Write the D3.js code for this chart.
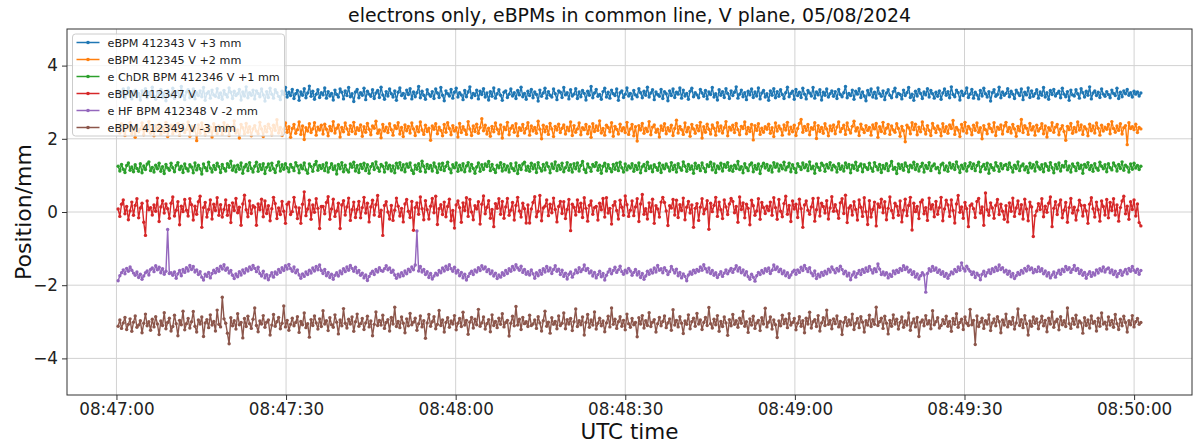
<!DOCTYPE html>
<html>
<head>
  <meta charset="UTF-8">
  <title>electrons only, eBPMs in common line, V plane, 05/08/2024</title>
  <script src="https://d3js.org/d3.v7.min.js"></script>
  <style>
    body { margin: 0; background: #fff; }
    svg { font-family: "DejaVu Sans", sans-serif; }
    .grid line { stroke: #d2d2d2; stroke-width: 1; }
    .axis path { display: none; }
    .axis line { stroke: #333; }
    .axis text { font-size: 16.8px; fill: #222; font-family: "DejaVu Sans", sans-serif; }
    .legend text { font-size: 11.2px; fill: #222; }
  </style>
</head>
<body>
<svg></svg>
<script>
// sampling of the logged BPM readings (UTC)
const sampleStart = Date.UTC(2024, 7, 5, 8, 47, 0, 300);
const sampleStepMs = 302;

const seriesNames = [
  'eBPM 412343 V +3 mm',
  'eBPM 412345 V +2 mm',
  'e ChDR BPM 412346 V +1 mm',
  'eBPM 412347 V',
  'e HF BPM 412348 V -2 mm',
  'eBPM 412349 V -3 mm'
];
const seriesColors = ['#1f77b4', '#ff7f0e', '#2ca02c', '#d62728', '#9467bd', '#8c564b'];

const xTickLabels = ['08:47:00', '08:47:30', '08:48:00', '08:48:30', '08:49:00', '08:49:30', '08:50:00'];
const yTicks = [-4, -2, 0, 2, 4];

const bpm412343 = `
3.30 3.14 3.25 3.36 3.11 3.22 3.39 3.18 3.09 3.28 3.33 3.15 3.24 3.06 3.31 3.20 3.37 3.12 3.27 3.19
3.41 3.16 3.08 3.29 3.23 3.35 3.13 3.26 3.04 3.32 3.21 3.17 3.38 3.10 3.25 3.30 3.14 3.43 3.19 3.07
3.28 3.34 3.12 3.22 3.36 3.09 3.26 3.18 3.31 3.15 3.40 3.05 3.24 3.29 3.11 3.33 3.20 3.16 3.37 3.13
3.25 3.08 3.32 3.21 3.14 3.39 3.27 3.10 3.30 3.18 3.23 3.35 3.06 3.28 3.17 3.42 3.12 3.26 3.19 3.33
3.09 3.31 3.24 3.15 3.36 3.20 3.03 3.29 3.13 3.38 3.22 3.11 3.34 3.26 3.16 3.07 3.30 3.21 3.40 3.14
3.27 3.18 3.35 3.10 3.23 3.32 3.05 3.28 3.19 3.37 3.12 3.25 3.44 3.16 3.30 3.08 3.22 3.34 3.13 3.26
3.20 3.39 3.11 3.29 3.17 3.24 3.06 3.33 3.21 3.14 3.36 3.27 3.09 3.31 3.18 3.40 3.15 3.23 3.02 3.28
3.35 3.12 3.26 3.19 3.38 3.07 3.30 3.22 3.16 3.34 3.10 3.25 3.32 3.13 3.41 3.20 3.08 3.29 3.17 3.36
3.23 3.14 3.31 3.05 3.27 3.39 3.18 3.24 3.11 3.33 3.21 3.37 3.09 3.28 3.15 3.26 3.43 3.12 3.30 3.19
3.08 3.34 3.22 3.16 3.29 3.10 3.36 3.25 3.13 3.40 3.19 3.04 3.31 3.23 3.17 3.35 3.11 3.27 3.38 3.14
3.26 3.20 3.07 3.32 3.15 3.28 3.42 3.12 3.24 3.18 3.33 3.09 3.30 3.21 3.37 3.14 3.25 3.06 3.29 3.16
3.39 3.11 3.23 3.34 3.19 3.05 3.27 3.31 3.13 3.22 3.36 3.17 3.26 3.10 3.32 3.20 3.41 3.15 3.24 3.08
3.30 3.18 3.35 3.12 3.28 3.21 3.03 3.33 3.16 3.25 3.38 3.11 3.29 3.19 3.14 3.36 3.23 3.07 3.31 3.27
3.13 3.40 3.20 3.26 3.09 3.34 3.17 3.22 3.37 3.10 3.28 3.15 3.32 3.24 3.06 3.30 3.19 3.43 3.12 3.25
3.35 3.16 3.21 3.08 3.29 3.38 3.14 3.27 3.11 3.33 3.23 3.18 3.36 3.05 3.26 3.31 3.13 3.22 3.39 3.17
3.24 3.09 3.32 3.20 3.15 3.37 3.26 3.12 3.30 3.19 3.41 3.14 3.25 3.34 3.07 3.28 3.21 3.16 3.35 3.10
3.29 3.23 3.04 3.31 3.18 3.36 3.13 3.27 3.22 3.39 3.11 3.33 3.17 3.24 3.08 3.30 3.38 3.15 3.26 3.20
3.12 3.35 3.25 3.16 3.32 3.09 3.28 3.21 3.40 3.14 3.23 3.06 3.34 3.19 3.29 3.13 3.37 3.24 3.10 3.31
3.18 3.27 3.42 3.11 3.22 3.33 3.15 3.26 3.07 3.30 3.20 3.36 3.13 3.28 3.17 3.39 3.09 3.25 3.32 3.14
3.23 3.05 3.31 3.19 3.37 3.12 3.29 3.16 3.34 3.21 3.10 3.26 3.41 3.15 3.24 3.30 3.08 3.35 3.18 3.27
3.13 3.38 3.22 3.09 3.32 3.25 3.17 3.40 3.11 3.28 3.20 3.34 3.06 3.27 3.19 3.36 3.14 3.23 3.31 3.16
3.29 3.10 3.35 3.21 3.15 3.26 3.43 3.12 3.24 3.18 3.33 3.08 3.30 3.22 3.37 3.13 3.28 3.17 3.04 3.32
3.20 3.36 3.14 3.27 3.11 3.39 3.23 3.16 3.31 3.07 3.25 3.34 3.19 3.12 3.29 3.38 3.15 3.24 3.21 3.09
3.33 3.18 3.26 3.40 3.13 3.22 3.05 3.30 3.17 3.35 3.24 3.10 3.28 3.20 3.37 3.14 3.32 3.23 3.11 3.27
3.16 3.31 3.08 3.25 3.36 3.19 3.29 3.12 3.42 3.21 3.15 3.33 3.26 3.06 3.30 3.18 3.24 3.39 3.13 3.22
3.35 3.11 3.27 3.20 3.09 3.32 3.17 3.38 3.23 3.14 3.29 3.03 3.26 3.34 3.16 3.21 3.41 3.12 3.28 3.19
3.24 3.37 3.15 3.30 3.22 3.10 3.33 3.25 3.18 3.36 3.07 3.27 3.20 3.39 3.13 3.31 3.16 3.23 3.34 3.11
3.28 3.19 3.40 3.14 3.26 3.08 3.32 3.21 3.35 3.17 3.24 3.30 3.12 3.38 3.22 3.15 3.29 3.05 3.33 3.20
3.17 3.34 3.23 3.11 3.37 3.26 3.14 3.30 3.19 3.42 3.09 3.25 3.31 3.18 3.27 3.13 3.36 3.22 3.16 3.29
3.21 3.12 3.33 3.24 3.18 3.38 3.10 3.27 3.15 3.31 3.23 3.35 3.19 3.26 3.14 3.30 3.22 3.28 3.17 3.25
`.trim().split(/\s+/).map(Number);

const bpm412345 = `
2.32 2.16 2.41 2.22 2.09 2.35 2.27 2.44 2.13 2.30 2.04 2.38 2.19 2.26 2.43 2.11 2.34 2.21 2.47 2.15
2.29 2.08 2.36 2.24 2.40 2.12 2.31 2.18 2.45 2.06 2.28 2.37 2.14 2.33 2.20 2.42 2.10 2.27 2.39 2.17
2.25 2.46 2.07 2.34 2.21 2.30 1.95 2.38 2.15 2.43 2.26 2.11 2.36 2.19 2.32 2.05 2.41 2.23 2.14 2.35
2.28 2.12 2.44 2.20 2.37 2.09 2.31 2.26 2.49 2.16 2.24 2.02 2.39 2.30 2.13 2.42 2.18 2.33 2.08 2.27
2.36 2.21 2.14 2.45 2.27 2.06 2.34 2.19 2.40 2.29 2.11 2.37 2.23 2.52 2.16 2.31 2.09 2.26 2.43 2.18
2.33 2.04 2.28 2.39 2.15 2.25 2.46 2.12 2.35 1.98 2.30 2.21 2.41 2.17 2.27 2.44 2.10 2.32 2.24 2.37
2.13 2.40 2.26 2.08 2.34 2.22 2.47 2.16 2.29 2.38 2.05 2.31 2.19 2.43 2.27 2.12 2.36 2.20 2.45 2.14
2.30 2.23 2.38 2.07 2.33 2.18 2.42 2.26 2.11 2.35 2.29 2.48 2.15 2.24 2.03 2.39 2.21 2.32 2.17 2.41
2.25 2.10 2.36 2.28 2.44 2.13 2.31 2.06 2.38 2.22 2.34 2.16 2.43 2.27 2.09 2.33 2.19 2.46 2.24 2.12
2.37 2.20 2.29 1.96 2.35 2.26 2.41 2.14 2.32 2.23 2.08 2.39 2.18 2.44 2.28 2.11 2.36 2.21 2.30 2.05
2.42 2.17 2.33 2.24 2.12 2.47 2.27 2.09 2.35 2.20 2.40 2.15 2.31 2.55 2.22 2.37 2.13 2.29 2.07 2.34
2.19 2.43 2.26 2.14 2.38 2.02 2.32 2.25 2.45 2.11 2.29 2.36 2.18 2.41 2.08 2.30 2.23 2.39 2.16 2.28
2.44 2.10 2.35 2.21 2.31 2.15 2.48 2.26 2.00 2.37 2.19 2.33 2.12 2.42 2.27 2.06 2.34 2.24 2.40 2.17
2.29 2.38 2.13 2.32 2.22 2.46 2.09 2.36 2.18 2.27 2.43 2.11 2.30 2.25 2.39 2.14 2.33 2.04 2.41 2.20
2.35 2.23 2.49 2.16 2.28 2.10 2.37 2.31 2.19 2.44 2.07 2.34 2.26 2.13 2.40 2.22 2.30 2.17 2.45 2.12
2.27 2.39 2.08 2.33 1.94 2.36 2.24 2.42 2.15 2.29 2.20 2.47 2.11 2.32 2.38 2.18 2.26 2.05 2.35 2.23
2.41 2.14 2.30 2.21 2.37 2.09 2.28 2.51 2.16 2.34 2.25 2.12 2.43 2.19 2.31 2.07 2.39 2.27 2.15 2.36
2.22 2.45 2.02 2.33 2.18 2.40 2.26 2.13 2.38 2.29 2.10 2.44 2.21 2.35 2.16 2.30 2.47 2.08 2.32 2.24
2.37 2.17 2.42 2.25 2.11 2.34 2.28 2.46 2.14 2.31 2.20 2.39 1.97 2.36 2.23 2.41 2.12 2.29 2.18 2.33
2.26 2.40 2.15 2.30 2.06 2.43 2.21 2.35 2.27 2.10 2.38 2.24 2.45 2.13 2.32 2.19 2.37 2.09 2.28 2.42
2.53 2.18 2.34 2.23 2.39 2.11 2.30 2.26 2.44 2.01 2.36 2.20 2.31 2.15 2.41 2.27 2.08 2.35 2.22 2.38
2.14 2.32 2.46 2.19 2.28 2.37 2.12 2.43 2.25 2.16 2.34 2.48 2.21 2.30 2.09 2.40 2.26 2.17 2.36 2.23
2.31 2.10 2.38 2.27 2.42 2.04 2.33 2.20 2.45 2.15 2.29 2.39 2.12 2.35 2.24 2.18 2.41 2.28 2.07 2.34
2.22 1.92 2.37 2.30 2.14 2.44 2.25 2.40 2.11 2.32 2.19 2.46 2.27 2.13 2.36 2.23 2.09 2.42 2.29 2.17
2.35 2.26 2.08 2.41 2.20 2.33 2.15 2.38 2.28 2.50 2.12 2.31 2.24 2.06 2.39 2.21 2.45 2.16 2.34 2.27
2.11 2.37 2.23 2.43 2.18 2.30 2.00 2.36 2.25 2.14 2.40 2.28 2.19 2.44 2.09 2.32 2.26 2.38 2.13 2.35
2.45 2.20 2.31 2.16 2.39 2.27 2.07 2.34 2.22 2.53 2.17 2.36 2.29 2.12 2.42 2.24 2.33 2.10 2.37 2.21
2.28 2.41 2.14 2.35 2.05 2.30 2.23 2.44 2.18 2.32 2.39 2.11 2.27 2.36 2.20 1.96 2.34 2.25 2.42 2.15
2.31 2.19 2.46 2.24 2.38 2.12 2.33 2.27 2.08 2.40 2.22 2.35 2.16 2.43 2.29 2.10 2.37 2.21 2.32 2.26
2.39 2.14 2.47 2.28 2.18 2.35 2.23 2.41 2.13 2.30 2.36 1.84 2.44 2.28 2.33 2.25 2.40 2.17 2.31 2.27
`.trim().split(/\s+/).map(Number);

const bpm412346 = `
1.25 1.12 1.30 1.17 1.08 1.27 1.34 1.14 1.23 1.10 1.29 1.19 1.11 1.32 1.07 1.26 1.16 1.31 1.37 1.13
1.22 1.09 1.28 1.18 1.33 1.11 1.24 1.05 1.30 1.20 1.14 1.33 1.21 1.10 1.27 1.35 1.16 1.25 1.08 1.31
1.19 1.12 1.29 1.23 1.07 1.34 1.15 1.28 1.18 1.04 1.31 1.21 1.13 1.36 1.20 1.09 1.27 1.16 1.33 1.24
1.08 1.30 1.19 1.12 1.32 1.22 1.39 1.14 1.26 1.10 1.28 1.17 1.34 1.06 1.23 1.30 1.13 1.35 1.19 1.09
1.25 1.36 1.11 1.29 1.16 1.32 1.05 1.22 1.31 1.14 1.33 1.18 1.08 1.27 1.37 1.12 1.29 1.17 1.32 1.21
1.10 1.30 1.22 1.13 1.35 1.26 1.07 1.28 1.18 1.34 1.15 1.06 1.31 1.24 1.11 1.29 1.38 1.14 1.27 1.19
1.29 1.13 1.34 1.09 1.21 1.32 1.16 1.26 1.04 1.30 1.18 1.35 1.10 1.28 1.15 1.09 1.31 1.22 1.36 1.12
1.27 1.08 1.30 1.19 1.33 1.13 1.29 1.06 1.24 1.32 1.16 1.37 1.21 1.11 1.30 1.25 1.09 1.34 1.18 1.28
1.12 1.26 1.07 1.33 1.20 1.35 1.15 1.29 1.10 1.31 1.22 1.34 1.14 1.05 1.28 1.17 1.32 1.11 1.39 1.25
1.09 1.30 1.19 1.27 1.12 1.34 1.23 1.08 1.31 1.16 1.33 1.13 1.25 1.36 1.18 1.07 1.29 1.21 1.34 1.11
1.28 1.15 1.32 1.10 1.26 1.35 1.12 1.30 1.19 1.06 1.23 1.34 1.11 1.29 1.16 1.31 1.24 1.38 1.13 1.30
1.17 1.08 1.28 1.21 1.35 1.12 1.30 1.15 1.26 1.09 1.32 1.19 1.13 1.34 1.05 1.27 1.16 1.31 1.36 1.14
1.25 1.11 1.33 1.18 1.29 1.08 1.35 1.20 1.12 1.30 1.15 1.34 1.24 1.07 1.31 1.19 1.37 1.13 1.28 1.17
1.33 1.10 1.21 1.35 1.14 1.29 1.09 1.32 1.18 1.34 1.12 1.27 1.38 1.16 1.08 1.31 1.22 1.11 1.30 1.24
1.35 1.14 1.28 1.06 1.25 1.33 1.12 1.29 1.19 1.10 1.30 1.17 1.33 1.13 1.36 1.21 1.09 1.31 1.15 1.26
1.20 1.32 1.11 1.27 1.16 1.34 1.07 1.24 1.30 1.13 1.36 1.19 1.26 1.10 1.29 1.22 1.14 1.33 1.08 1.28
1.18 1.31 1.23 1.12 1.35 1.16 1.28 1.09 1.32 1.21 1.14 1.37 1.25 1.11 1.30 1.17 1.26 1.06 1.33 1.19
1.27 1.13 1.34 1.20 1.10 1.29 1.24 1.36 1.15 1.31 1.08 1.26 1.18 1.33 1.12 1.30 1.22 1.35 1.14 1.25
1.11 1.28 1.19 1.38 1.16 1.24 1.07 1.32 1.21 1.13 1.29 1.34 1.10 1.27 1.17 1.31 1.05 1.25 1.33 1.20
1.30 1.14 1.26 1.09 1.35 1.22 1.31 1.12 1.28 1.18 1.36 1.15 1.23 1.33 1.10 1.29 1.19 1.08 1.32 1.24
1.16 1.34 1.21 1.29 1.13 1.37 1.18 1.25 1.06 1.31 1.22 1.14 1.33 1.27 1.11 1.30 1.20 1.35 1.15 1.28
1.23 1.09 1.32 1.17 1.26 1.12 1.34 1.21 1.30 1.07 1.28 1.19 1.36 1.14 1.25 1.31 1.10 1.29 1.22 1.16
1.33 1.20 1.11 1.35 1.24 1.15 1.30 1.08 1.27 1.18 1.32 1.13 1.26 1.38 1.17 1.22 1.05 1.31 1.19 1.29
1.14 1.34 1.25 1.10 1.28 1.21 1.36 1.16 1.30 1.12 1.24 1.33 1.09 1.27 1.19 1.35 1.13 1.26 1.31 1.18
1.22 1.07 1.29 1.33 1.15 1.26 1.11 1.34 1.20 1.30 1.16 1.37 1.23 1.08 1.28 1.18 1.32 1.12 1.25 1.35
1.19 1.31 1.13 1.27 1.36 1.10 1.24 1.30 1.17 1.33 1.06 1.29 1.21 1.14 1.35 1.25 1.11 1.32 1.18 1.27
1.30 1.16 1.34 1.22 1.09 1.28 1.19 1.37 1.13 1.26 1.31 1.15 1.24 1.08 1.33 1.20 1.29 1.12 1.36 1.23
1.17 1.29 1.10 1.32 1.25 1.14 1.35 1.21 1.07 1.30 1.18 1.34 1.12 1.27 1.23 1.38 1.15 1.26 1.09 1.31
1.24 1.13 1.33 1.19 1.28 1.06 1.30 1.22 1.35 1.16 1.27 1.11 1.32 1.20 1.14 1.36 1.25 1.18 1.29 1.10
1.32 1.21 1.15 1.34 1.26 1.12 1.30 1.19 1.37 1.14 1.28 1.23 1.09 1.31 1.17 1.33 1.20 1.27 1.16 1.25
`.trim().split(/\s+/).map(Number);

const bpm412347 = `
0.08 -0.12 0.21 0.33 -0.05 0.15 -0.21 0.03 0.27 -0.09 0.18 0.36 -0.16 0.11 0.24 -0.28 -0.64 0.30 0.06 0.12
-0.08 0.19 0.02 0.38 -0.26 0.14 0.31 -0.03 0.22 0.09 -0.17 0.24 0.41 -0.11 0.05 0.28 -0.35 0.16 0.01 0.34
0.05 -0.11 0.36 0.20 -0.22 0.16 -0.06 0.28 0.43 -0.42 0.12 0.26 -0.14 0.07 0.33 -0.19 0.21 0.04 0.39 -0.09
0.20 -0.14 0.07 0.33 -0.09 0.18 -0.29 0.25 0.04 0.37 -0.02 0.13 -0.36 0.22 0.46 0.06 -0.13 0.30 -0.04 0.17
0.13 -0.36 0.22 0.06 0.35 -0.13 0.30 -0.04 0.17 -0.24 0.09 0.40 0.23 -0.18 0.11 -0.07 0.29 0.02 -0.31 0.21
0.27 -0.07 0.01 0.40 0.14 -0.18 0.11 -0.31 0.21 0.55 -0.10 0.08 0.32 -0.20 0.19 -0.01 0.36 0.10 -0.45 0.15
0.15 -0.05 0.26 0.42 -0.20 0.08 0.35 -0.12 0.03 0.24 -0.45 0.19 0.31 -0.08 0.14 0.38 -0.23 0.06 0.27 -0.15
0.07 0.29 -0.16 0.12 0.40 -0.03 0.24 -0.27 0.14 0.32 -0.08 0.20 0.45 -0.12 0.05 -0.64 0.18 0.28 0.00 -0.19
0.18 -0.23 0.05 0.38 0.16 -0.11 0.10 -0.27 0.22 0.34 0.02 -0.15 0.29 -0.50 0.12 0.25 -0.06 0.41 0.09 -0.21
0.31 0.06 -0.19 0.16 0.37 -0.02 0.43 -0.34 0.09 0.20 -0.07 0.27 -0.13 0.15 0.35 -0.24 0.04 -0.44 0.19 0.30
0.12 -0.28 0.25 0.04 0.39 -0.12 0.34 0.00 -0.21 0.17 0.08 0.28 -0.33 0.21 0.44 -0.05 0.13 0.31 -0.17 0.07
-0.40 0.23 0.10 0.36 -0.06 0.29 -0.17 0.14 0.37 -0.09 0.05 0.26 -0.22 0.18 0.40 0.03 -0.14 0.24 0.09 -0.30
0.19 -0.30 0.08 0.26 0.42 -0.13 0.02 0.45 -0.24 0.11 0.16 0.33 -0.10 0.21 -0.02 0.38 0.07 -0.27 0.15 0.29
-0.04 0.28 -0.18 0.07 0.34 -0.51 0.21 0.13 -0.08 0.33 0.01 0.24 -0.15 0.39 0.10 -0.25 0.18 0.30 -0.06 0.12
0.15 -0.22 0.24 0.06 0.37 -0.14 0.39 -0.03 0.10 -0.33 0.18 0.28 0.04 -0.19 0.32 0.13 -0.09 0.44 0.20 -0.12
0.05 0.30 -0.10 0.14 0.36 -0.26 0.22 0.48 -0.06 0.09 -0.19 0.25 0.01 0.35 -0.31 0.17 0.08 -0.14 0.27 0.40
0.26 0.03 -0.37 0.17 0.11 0.34 -0.08 0.32 -0.15 0.20 0.04 0.38 -0.21 0.13 0.29 -0.03 0.19 -0.42 0.10 0.23
-0.23 0.13 0.36 -0.05 0.08 0.31 -0.47 0.24 0.01 0.18 0.40 -0.12 0.27 0.06 -0.18 0.33 0.14 -0.07 0.22 0.37
0.29 -0.02 0.15 -0.28 0.41 0.07 0.25 -0.16 0.21 0.10 -0.35 0.32 0.17 -0.09 0.03 0.36 -0.20 0.26 0.12 -0.04
0.16 0.04 0.27 -0.09 0.39 0.12 -0.20 0.34 0.02 -0.13 0.23 0.43 -0.06 0.18 -0.26 0.30 0.08 0.21 -0.15 0.35
0.09 -0.42 0.19 0.30 0.05 -0.06 0.14 0.37 -0.25 0.06 0.38 -0.11 0.24 0.15 -0.03 0.31 -0.19 0.11 0.42 0.02
0.20 0.03 -0.17 0.25 0.36 -0.04 0.46 -0.29 0.11 0.17 -0.08 0.28 0.07 -0.22 0.33 0.13 -0.12 0.39 0.01 -0.34
0.31 -0.14 0.07 0.27 -0.38 0.22 0.13 0.35 -0.02 0.28 -0.21 0.10 0.41 0.04 -0.16 0.24 0.16 -0.09 0.30 -0.27
0.05 0.35 -0.10 0.18 0.40 -0.49 0.24 0.01 0.15 -0.18 0.27 0.33 -0.05 0.12 -0.23 0.38 0.08 0.20 -0.13 0.29
-0.06 0.12 0.40 -0.24 0.08 0.32 0.19 -0.12 0.33 0.04 -0.30 0.22 0.45 -0.01 0.14 -0.17 0.26 0.09 -0.40 0.17
0.22 0.09 -0.15 0.29 0.37 -0.03 0.14 -0.36 0.52 0.06 -0.09 0.25 0.11 -0.17 0.18 0.34 -0.07 0.21 0.02 -0.20
0.17 -0.27 0.25 0.02 0.38 -0.12 0.11 0.30 -0.05 0.20 -0.19 0.35 0.08 -0.24 0.27 0.14 -0.67 -0.10 0.03 0.23
0.07 0.36 -0.13 0.16 -0.01 0.24 0.41 -0.40 0.10 0.28 -0.07 0.19 0.33 -0.16 0.05 0.26 -0.28 0.12 0.37 -0.03
0.13 -0.22 0.05 0.32 0.18 -0.11 0.18 0.03 -0.31 0.21 0.39 0.09 -0.14 0.27 0.06 -0.25 0.30 0.15 -0.08 0.34
-0.16 0.26 0.04 0.36 -0.08 0.19 -0.25 0.12 0.30 0.43 -0.05 0.16 -0.20 0.28 0.07 0.33 -0.11 0.22 -0.29 -0.38
`.trim().split(/\s+/).map(Number);

const bpm412348 = `
-1.88 -1.74 -1.66 -1.58 -1.69 -1.54 -1.62 -1.50 -1.59 -1.67 -1.73 -1.64 -1.79 -1.70 -1.84 -1.75 -1.66 -1.61 -1.72 -1.57
-1.53 -1.63 -1.47 -1.58 -1.51 -1.66 -1.55 -1.70 -1.62 -0.48 -1.68 -1.66 -1.73 -1.64 -1.81 -1.69 -1.60 -1.74 -1.57 -1.65
-1.52 -1.61 -1.46 -1.57 -1.49 -1.64 -1.58 -1.71 -1.63 -1.78 -1.86 -1.70 -1.76 -1.65 -1.80 -1.68 -1.59 -1.66 -1.54 -1.62
-1.48 -1.56 -1.44 -1.59 -1.53 -1.67 -1.60 -1.73 -1.82 -1.69 -1.77 -1.63 -1.72 -1.58 -1.67 -1.55 -1.61 -1.50 -1.57 -1.46
-1.54 -1.63 -1.51 -1.68 -1.75 -1.62 -1.80 -1.71 -1.85 -1.74 -1.66 -1.78 -1.64 -1.70 -1.57 -1.65 -1.52 -1.60 -1.47 -1.56
-1.43 -1.55 -1.62 -1.50 -1.66 -1.58 -1.72 -1.81 -1.69 -1.76 -1.64 -1.71 -1.59 -1.67 -1.53 -1.61 -1.49 -1.58 -1.45 -1.60
-1.68 -1.57 -1.74 -1.65 -1.79 -1.70 -1.84 -1.73 -1.66 -1.75 -1.61 -1.69 -1.55 -1.63 -1.50 -1.59 -1.46 -1.54 -1.62 -1.51
-1.66 -1.60 -1.73 -1.67 -1.80 -1.72 -1.87 -1.76 -1.68 -1.62 -1.71 -1.57 -1.64 -1.52 -1.60 -1.62 -1.55 -1.47 -1.58 -1.53
-1.65 -1.59 -1.72 -1.81 -1.70 -1.77 -1.66 -1.74 -1.61 -1.69 -1.56 -1.63 -1.50 -1.58 -1.45 -0.52 -1.61 -1.49 -1.64 -1.57
-1.71 -1.63 -1.79 -1.68 -1.83 -1.75 -1.67 -1.72 -1.60 -1.66 -1.53 -1.61 -1.48 -1.57 -1.44 -1.55 -1.62 -1.51 -1.67 -1.59
-1.74 -1.65 -1.80 -1.70 -1.86 -1.76 -1.68 -1.62 -1.71 -1.58 -1.64 -1.52 -1.60 -1.47 -1.56 -1.50 -1.63 -1.57 -1.69 -1.61
-1.75 -1.67 -1.82 -1.72 -1.78 -1.66 -1.73 -1.60 -1.68 -1.55 -1.62 -1.49 -1.58 -1.44 -1.53 -1.59 -1.48 -1.65 -1.57 -1.70
-1.63 -1.72 -1.58 -1.69 -1.81 -1.66 -1.74 -1.60 -1.70 -1.55 -1.64 -1.49 -1.61 -1.53 -1.68 -1.57 -1.47 -1.62 -1.56 -1.71
-1.59 -1.76 -1.67 -1.83 -1.70 -1.64 -1.78 -1.69 -1.58 -1.66 -1.52 -1.63 -1.57 -1.45 -1.60 -1.54 -1.67 -1.61 -1.75 -1.65
-1.80 -1.71 -1.62 -1.77 -1.68 -1.86 -1.73 -1.64 -1.56 -1.69 -1.60 -1.51 -1.65 -1.58 -1.48 -1.63 -1.70 -1.59 -1.66 -1.54
-1.61 -1.73 -1.65 -1.57 -1.72 -1.63 -1.79 -1.68 -1.84 -1.75 -1.62 -1.70 -1.58 -1.67 -1.53 -1.64 -1.46 -1.59 -1.55 -1.66
-1.52 -1.60 -1.71 -1.63 -1.49 -1.58 -1.67 -1.56 -1.74 -1.65 -1.80 -1.69 -1.76 -1.88 -1.72 -1.64 -1.70 -1.59 -1.66 -1.57
-1.62 -1.50 -1.59 -1.44 -1.55 -1.64 -1.53 -1.68 -1.60 -1.73 -1.66 -1.79 -1.71 -1.63 -1.76 -1.67 -1.58 -1.69 -1.61 -1.54
-1.65 -1.56 -1.47 -1.61 -1.52 -1.66 -1.58 -1.72 -1.63 -1.77 -1.84 -1.70 -1.78 -1.89 -1.74 -1.65 -1.71 -1.60 -1.67 -1.55
-1.62 -1.53 -1.68 -1.59 -1.45 -1.57 -1.50 -1.63 -1.56 -1.69 -1.61 -1.74 -1.66 -1.79 -1.72 -1.64 -1.59 -1.70 -1.58 -1.65
-1.51 -1.60 -1.46 -1.55 -1.63 -1.52 -1.67 -1.74 -1.61 -1.82 -1.70 -1.77 -1.65 -1.73 -1.62 -1.69 -1.56 -1.64 -1.50 -1.58
-1.66 -1.54 -1.61 -1.48 -1.57 -1.69 -1.62 -1.75 -1.67 -1.85 -1.72 -1.64 -1.78 -1.68 -1.60 -1.71 -1.57 -1.65 -1.53 -1.62
-1.49 -1.58 -1.67 -1.55 -1.63 -1.42 -1.56 -1.71 -1.64 -1.72 -1.66 -1.80 -1.70 -1.76 -1.61 -1.69 -1.59 -1.65 -1.54 -1.60
-1.47 -1.57 -1.51 -1.64 -1.58 -1.71 -1.63 -1.78 -1.69 -1.83 -1.74 -1.66 -1.72 -2.19 -1.68 -1.55 -1.62 -1.49 -1.59 -1.53
-1.65 -1.58 -1.70 -1.63 -1.76 -1.68 -1.81 -1.72 -1.64 -1.69 -1.57 -1.63 -1.50 -1.59 -1.39 -1.54 -1.61 -1.48 -1.56 -1.62
-1.71 -1.64 -1.79 -1.67 -1.73 -1.85 -1.70 -1.62 -1.75 -1.66 -1.58 -1.68 -1.55 -1.63 -1.51 -1.60 -1.45 -1.57 -1.52 -1.64
-1.59 -1.70 -1.62 -1.77 -1.68 -1.82 -1.74 -1.65 -1.71 -1.60 -1.67 -1.54 -1.61 -1.48 -1.58 -1.53 -1.66 -1.57 -1.63 -1.50
-1.62 -1.55 -1.69 -1.61 -1.75 -1.66 -1.80 -1.72 -1.64 -1.78 -1.67 -1.59 -1.70 -1.56 -1.63 -1.49 -1.58 -1.52 -1.65 -1.57
-1.46 -1.60 -1.54 -1.68 -1.59 -1.73 -1.65 -1.81 -1.70 -1.63 -1.76 -1.66 -1.72 -1.58 -1.67 -1.55 -1.61 -1.50 -1.64 -1.56
-1.53 -1.66 -1.58 -1.71 -1.62 -1.77 -1.68 -1.60 -1.73 -1.64 -1.57 -1.69 -1.54 -1.62 -1.49 -1.59 -1.65 -1.56 -1.70 -1.60
`.trim().split(/\s+/).map(Number);

const bpm412349 = `
-3.12 -2.95 -3.18 -3.03 -2.88 -3.21 -3.07 -2.92 -3.26 -3.01 -2.84 -3.15 -3.09 -2.97 -3.30 -3.04 -2.79 -3.11 -3.00 -3.23
-2.93 -3.14 -2.86 -3.06 -3.35 -2.98 -3.10 -2.75 -3.19 -3.02 -2.90 -3.25 -3.13 -2.82 -3.05 -3.38 -2.96 -3.08 -2.71 -3.22
-3.05 -2.91 -3.17 -3.00 -2.72 -3.12 -3.28 -2.95 -3.06 -2.87 -3.40 -3.03 -2.94 -3.16 -2.81 -3.09 -2.99 -3.25 -2.68 -3.07
-3.14 -2.33 -2.92 -3.04 -3.31 -3.60 -2.89 -3.11 -2.97 -3.20 -2.78 -3.08 -3.02 -3.44 -2.91 -3.13 -2.85 -3.05 -3.18 -2.93
-2.62 -3.10 -3.27 -2.98 -3.06 -2.83 -3.15 -3.01 -2.95 -3.36 -3.09 -2.80 -3.12 -3.00 -2.88 -3.19 -3.04 -2.57 -3.14 -2.96
-3.23 -3.07 -2.90 -3.11 -3.02 -2.86 -3.29 -2.99 -3.08 -2.76 -3.16 -3.05 -3.42 -2.94 -3.10 -2.84 -3.03 -3.20 -2.92 -3.13
-2.70 -3.06 -2.97 -3.24 -2.89 -3.08 -3.15 -2.81 -3.01 -3.33 -2.95 -3.11 -2.64 -3.04 -3.17 -2.93 -3.06 -2.87 -3.26 -3.00
-2.79 -3.12 -3.05 -2.91 -3.21 -3.03 -2.85 -3.14 -2.98 -3.38 -3.07 -2.73 -3.10 -2.96 -3.09 -2.82 -3.18 -3.02 -2.94 -3.25
-2.88 -3.06 -2.60 -3.13 -2.99 -3.16 -2.87 -3.04 -3.30 -2.92 -3.11 -2.77 -3.08 -3.01 -2.90 -3.23 -3.05 -2.84 -3.14 -2.97
-3.45 -3.03 -2.80 -3.12 -3.00 -2.86 -3.19 -3.07 -2.69 -3.10 -2.95 -3.28 -3.02 -2.89 -3.15 -2.98 -3.06 -2.83 -3.22 -3.04
-2.91 -3.13 -2.74 -3.09 -2.96 -3.34 -3.01 -2.88 -3.17 -2.93 -3.08 -2.66 -3.12 -3.03 -2.87 -3.20 -3.05 -2.94 -3.27 -2.81
-3.10 -2.99 -3.16 -2.90 -3.07 -2.78 -3.14 -3.02 -2.96 -3.39 -3.04 -2.85 -3.11 -2.58 -3.09 -2.93 -3.21 -2.88 -3.05 -3.00
-3.13 -2.82 -3.10 -3.06 -2.95 -3.18 -2.86 -3.03 -3.25 -2.97 -2.71 -3.12 -3.01 -3.31 -2.89 -3.07 -2.99 -3.19 -2.84 -3.10
-3.04 -2.76 -3.19 -2.94 -3.06 -2.91 -3.24 -3.00 -2.65 -3.13 -2.97 -3.08 -2.87 -3.36 -3.02 -2.80 -3.15 -2.95 -3.09 -2.73
-3.20 -3.04 -2.90 -3.11 -2.98 -3.27 -3.03 -2.85 -3.14 -2.62 -3.07 -2.93 -3.18 -3.00 -2.86 -3.12 -2.96 -3.22 -2.79 -3.05
-3.15 -2.91 -3.08 -3.02 -3.41 -2.89 -3.06 -2.83 -3.17 -2.97 -3.10 -2.75 -3.13 -3.01 -2.94 -3.28 -3.05 -2.88 -3.11 -2.99
-2.84 -3.16 -3.03 -2.92 -3.23 -2.67 -3.09 -2.96 -3.14 -2.86 -3.04 -3.32 -2.98 -3.07 -2.81 -3.19 -3.00 -2.90 -3.12 -2.77
-3.06 -2.95 -3.21 -3.02 -2.88 -3.10 -2.61 -3.05 -3.17 -2.93 -3.08 -2.83 -3.26 -2.99 -3.13 -2.87 -3.03 -3.37 -2.94 -3.11
-2.80 -3.07 -2.97 -3.15 -2.90 -3.04 -2.72 -3.12 -3.00 -3.29 -2.92 -3.09 -2.85 -3.18 -3.03 -2.96 -3.24 -2.89 -3.06 -2.63
-3.14 -3.01 -2.87 -3.20 -2.95 -3.08 -3.43 -2.98 -3.11 -2.82 -3.05 -2.93 -3.16 -2.78 -3.09 -3.02 -2.91 -3.22 -3.04 -2.86
-3.12 -2.97 -3.30 -2.90 -3.06 -2.74 -3.17 -3.00 -2.94 -3.13 -2.83 -3.25 -3.03 -2.89 -3.10 -2.68 -3.07 -2.96 -3.19 -2.92
-3.05 -2.84 -3.14 -2.99 -3.35 -3.02 -2.88 -3.11 -2.95 -3.08 -2.79 -3.21 -3.04 -2.91 -3.16 -2.86 -3.01 -3.28 -2.97 -3.09
-2.82 -3.13 -2.94 -3.07 -2.60 -3.10 -3.00 -2.90 -3.18 -2.85 -3.04 -3.33 -2.96 -3.12 -2.81 -3.06 -2.93 -3.20 -3.02 -2.87
-3.15 -2.98 -3.09 -2.76 -3.23 -3.03 -2.92 -3.14 -2.88 -3.40 -3.01 -2.95 -3.11 -2.83 -3.06 -2.97 -3.19 -2.70 -3.08 -3.00
-2.89 -3.17 -3.10 -2.94 -3.05 -2.85 -3.12 -2.99 -3.26 -2.91 -3.07 -2.78 -3.15 -3.02 -2.93 -3.21 -2.87 -3.04 -3.10 -2.66
-3.08 -2.96 -3.62 -2.84 -3.13 -3.01 -2.90 -3.18 -2.97 -3.06 -2.81 -3.24 -3.03 -2.92 -3.11 -2.86 -3.00 -3.30 -2.95 -3.09
-2.79 -3.14 -2.99 -3.07 -2.88 -3.20 -3.03 -2.65 -3.10 -2.94 -3.16 -2.83 -3.05 -3.36 -2.98 -3.12 -2.87 -3.04 -2.92 -3.19
-3.01 -2.85 -3.11 -2.96 -3.27 -2.90 -3.06 -2.73 -3.15 -3.00 -2.93 -3.22 -2.86 -3.08 -2.97 -3.13 -2.62 -3.05 -3.18 -2.91
-3.07 -2.82 -3.14 -2.98 -3.03 -3.31 -2.89 -3.10 -2.95 -3.17 -2.84 -3.04 -2.99 -3.25 -2.90 -3.12 -2.76 -3.06 -3.01 -3.20
-2.87 -3.09 -2.96 -3.15 -2.80 -3.05 -3.21 -2.93 -3.11 -2.85 -3.02 -3.28 -2.97 -3.08 -2.83 -3.14 -3.00 -2.91 -3.07 -3.02
`.trim().split(/\s+/).map(Number);

const seriesValues = [bpm412343, bpm412345, bpm412346, bpm412347, bpm412348, bpm412349];

const W = 1196, H = 444;
const margin = { top: 29, right: 4, bottom: 49, left: 67 };
const width = W - margin.left - margin.right;
const height = H - margin.top - margin.bottom;

const svg = d3.select('svg')
  .attr('width', W)
  .attr('height', H);

const series = seriesNames.map((name, k) => ({
  name: name,
  color: seriesColors[k],
  points: seriesValues[k].map((v, i) => ({ t: new Date(sampleStart + i * sampleStepMs), v: v }))
}));

// matplotlib-like 5% margin around the data in x
const tExtent = d3.extent(series.flatMap(s => s.points), d => d.t);
const pad = (tExtent[1] - tExtent[0]) * 0.05;

const x = d3.scaleUtc()
  .domain([new Date(+tExtent[0] - pad), new Date(+tExtent[1] + pad)])
  .range([0, width]);

const y = d3.scaleLinear()
  .domain([-5, 5])
  .range([height, 0]);

const xTicks = xTickLabels.map(s => new Date('2024-08-05T' + s + 'Z'));

const g = svg.append('g')
  .attr('transform', `translate(${margin.left},${margin.top})`);

// grid
const grid = g.append('g').attr('class', 'grid');
grid.selectAll('line.gx')
  .data(xTicks)
  .enter().append('line')
  .attr('class', 'gx')
  .attr('x1', d => x(d)).attr('x2', d => x(d))
  .attr('y1', 0).attr('y2', height);
grid.selectAll('line.gy')
  .data(yTicks)
  .enter().append('line')
  .attr('class', 'gy')
  .attr('x1', 0).attr('x2', width)
  .attr('y1', d => y(d)).attr('y2', d => y(d));

// series
const line = d3.line()
  .x(d => x(d.t))
  .y(d => y(d.v));

const sg = g.selectAll('.series')
  .data(series)
  .enter().append('g')
  .attr('class', 'series');

sg.append('path')
  .attr('d', d => line(d.points))
  .attr('fill', 'none')
  .attr('stroke', d => d.color)
  .attr('stroke-width', 1.4)
  .attr('stroke-linejoin', 'round');

sg.each(function(s) {
  d3.select(this).selectAll('circle')
    .data(s.points)
    .enter().append('circle')
    .attr('cx', d => x(d.t))
    .attr('cy', d => y(d.v))
    .attr('r', 1.7)
    .attr('fill', s.color);
});

// axes
g.append('g')
  .attr('class', 'axis')
  .attr('transform', `translate(0,${height})`)
  .call(d3.axisBottom(x)
    .tickValues(xTicks)
    .tickFormat(d3.utcFormat('%H:%M:%S'))
    .tickSizeOuter(0)
    .tickSizeInner(5)
    .tickPadding(3))
  .selectAll('text')
  .attr('dy', '0.7em');

g.append('g')
  .attr('class', 'axis')
  .call(d3.axisLeft(y)
    .tickValues(yTicks)
    .tickSizeOuter(0)
    .tickSizeInner(5)
    .tickPadding(4));

// frame
g.append('rect')
  .attr('width', width)
  .attr('height', height)
  .attr('fill', 'none')
  .attr('stroke', '#333')
  .attr('stroke-width', 1);

// labels
svg.append('text')
  .attr('x', margin.left + width / 2)
  .attr('y', 22)
  .attr('text-anchor', 'middle')
  .attr('font-size', '18.9px')
  .attr('fill', '#111')
  .text('electrons only, eBPMs in common line, V plane, 05/08/2024');

svg.append('text')
  .attr('x', margin.left + width / 2)
  .attr('y', 439)
  .attr('text-anchor', 'middle')
  .attr('font-size', '21.5px')
  .attr('fill', '#111')
  .text('UTC time');

svg.append('text')
  .attr('transform', `translate(31,${margin.top + height / 2}) rotate(-90)`)
  .attr('text-anchor', 'middle')
  .attr('font-size', '22px')
  .attr('fill', '#111')
  .text('Position/mm');

// legend
const legend = g.append('g')
  .attr('class', 'legend')
  .attr('transform', 'translate(5.5,5)');

legend.append('rect')
  .attr('width', 212)
  .attr('height', 102)
  .attr('rx', 3)
  .attr('fill', '#fff')
  .attr('fill-opacity', 0.8)
  .attr('stroke', '#cccccc')
  .attr('stroke-width', 1);

const item = legend.selectAll('.item')
  .data(series)
  .enter().append('g')
  .attr('class', 'item')
  .attr('transform', (d, i) => `translate(0,${8.5 + i * 17})`);

item.append('line')
  .attr('x1', 4).attr('x2', 27)
  .attr('stroke', d => d.color)
  .attr('stroke-width', 1.5);
item.append('circle')
  .attr('cx', 15.5)
  .attr('r', 1.8)
  .attr('fill', d => d.color);
item.append('text')
  .attr('x', 35)
  .attr('dy', '0.36em')
  .text(d => d.name);
</script>
</body>
</html>
